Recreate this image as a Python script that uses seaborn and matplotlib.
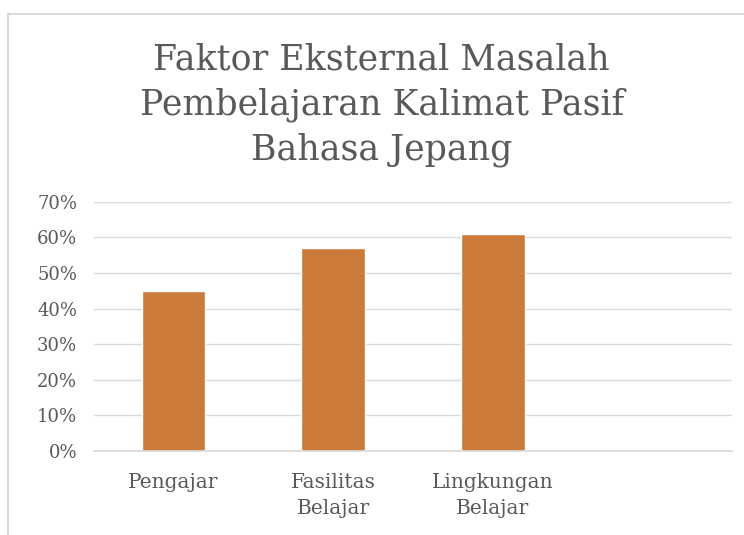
import pandas as pd
import matplotlib.pyplot as plt
import seaborn as sns
from matplotlib.ticker import PercentFormatter
from matplotlib.patches import Rectangle

# Data
categories = ["Pengajar", "Fasilitas\nBelajar", "Lingkungan\nBelajar"]
values = [0.45, 0.57, 0.61]
slots = categories + [""]  # empty fourth slot, as in the original

df = pd.DataFrame({"faktor": categories, "persen": values})

sns.set_theme(style="white")
plt.rcParams['font.family'] = ['DejaVu Serif']
grey = "#595959"

fig = plt.figure(figsize=(7.44, 5.35), dpi=100)
ax = fig.add_axes([0.126, 0.157, 0.858, 0.466])

sns.barplot(data=df, x="faktor", y="persen", order=slots, color="#CB7A3A",
            width=0.4, saturation=1, ax=ax)

ax.set_ylim(0, 0.7)
ax.set_yticks([i / 10 for i in range(8)])
ax.yaxis.set_major_formatter(PercentFormatter(1.0, decimals=0))
ax.yaxis.grid(True, color="#D9D9D9", linewidth=1)
ax.set_axisbelow(True)
for s in ["top", "right", "left"]:
    ax.spines[s].set_visible(False)
ax.spines["bottom"].set_color("#D9D9D9")
ax.tick_params(axis="both", length=0, colors=grey, labelsize=13)
ax.tick_params(axis="x", pad=16)
ax.tick_params(axis="y", pad=12)
for lbl in ax.get_xticklabels():
    lbl.set_fontsize(14.5)
    lbl.set_linespacing(1.45)
ax.set_xlabel("")
ax.set_ylabel("")

fig.text(0.513, 0.92, "Faktor Eksternal Masalah\nPembelajaran Kalimat Pasif\nBahasa Jepang",
         ha="center", va="top", fontsize=25, color=grey, linespacing=1.4)

# chart area border
fig.patches.append(Rectangle((8 / 744, -0.1), 1.2, 1 - 14 / 535 + 0.1,
                             transform=fig.transFigure, fill=False,
                             edgecolor="#D9D9D9", linewidth=1.5))

plt.savefig("out.png", dpi=100)
